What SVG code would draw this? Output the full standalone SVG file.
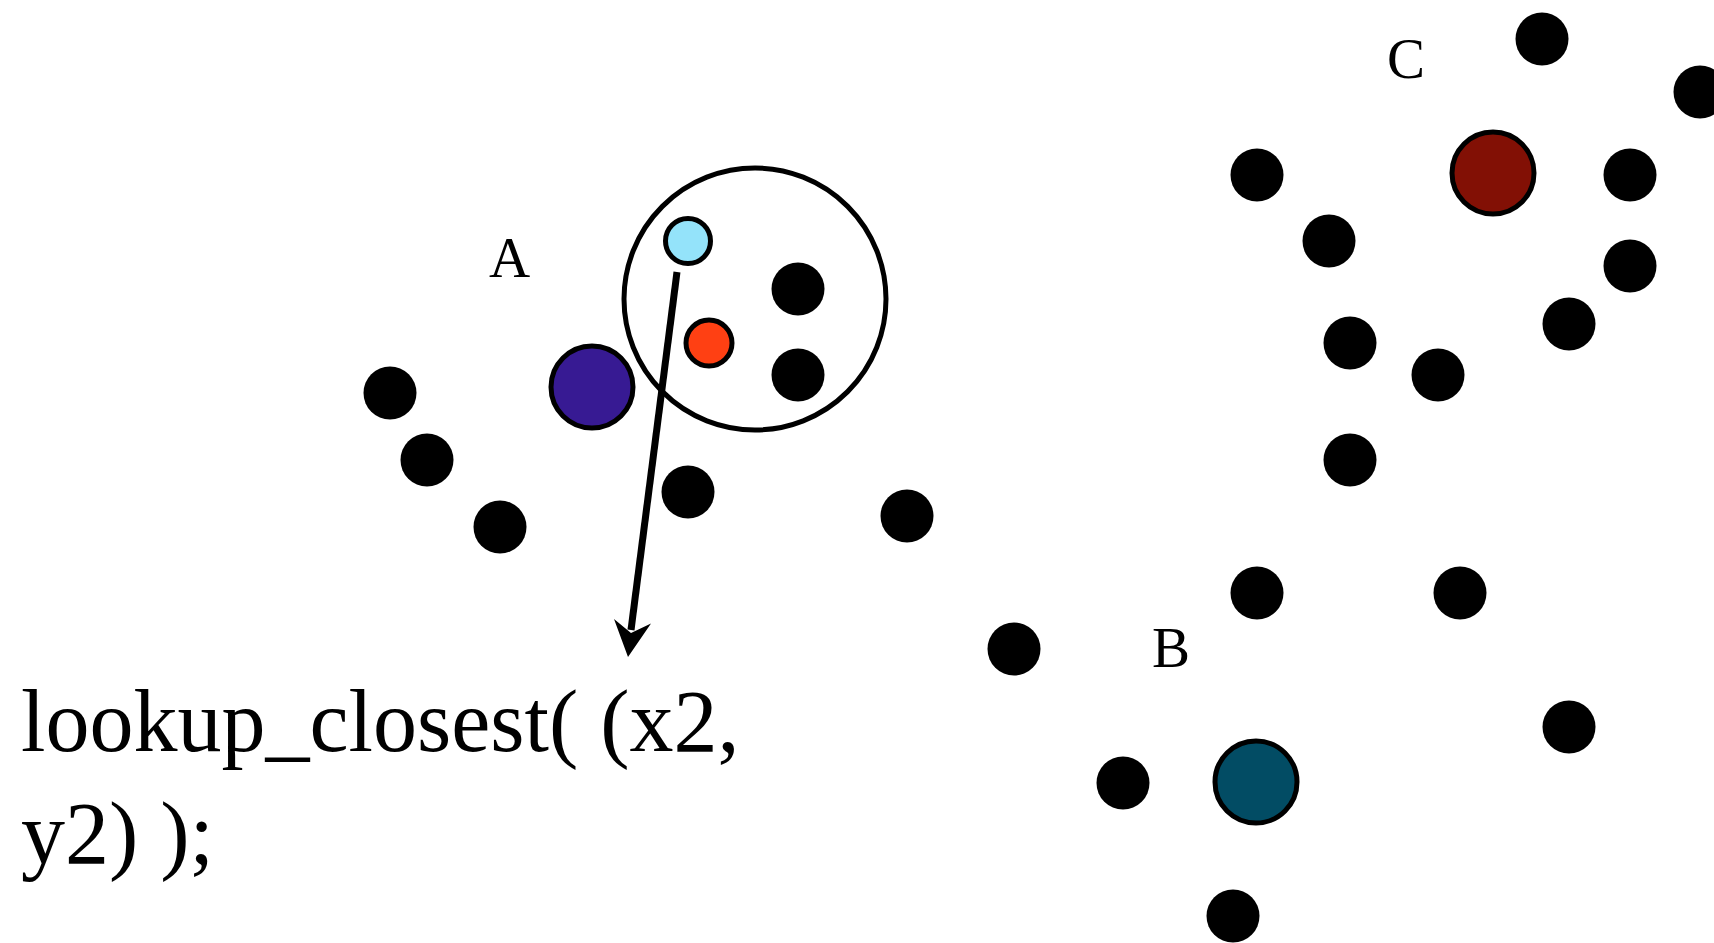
<svg xmlns="http://www.w3.org/2000/svg" width="1714" height="943" viewBox="0 0 1714 943">
<style>
.dot{fill:#000}
.hl{stroke:#000;stroke-width:5}
.lbl{font-family:"Liberation Serif","Times New Roman",serif;font-size:57px;fill:#000}
.code{font-family:"Liberation Serif","Times New Roman",serif;font-size:88px;fill:#000}
</style>
<rect width="1714" height="943" fill="#fff"/>
<g id="cluster-A">
<text class="lbl" x="489" y="277">A</text>
<circle id="search-radius" cx="755" cy="299" r="131" fill="none" stroke="#000" stroke-width="5"/>
<circle class="dot" cx="390" cy="393" r="26.5"/>
<circle class="dot" cx="427" cy="460" r="26.5"/>
<circle class="dot" cx="500" cy="527" r="26.5"/>
<circle class="dot" cx="688" cy="492" r="26.5"/>
<circle class="dot" cx="907" cy="516" r="26.5"/>
<circle class="dot" cx="798" cy="289" r="26.5"/>
<circle class="dot" cx="798" cy="375" r="26.5"/>
<circle id="centroid-A" class="hl" cx="592" cy="387" r="41" fill="#371A93"/>
<circle id="query-point" class="hl" cx="688" cy="241" r="22.5" fill="#94E3FA"/>
<circle id="nearest-point" class="hl" cx="709" cy="343" r="23" fill="#FF4013"/>
</g>
<g id="cluster-B">
<text class="lbl" x="1152" y="667">B</text>
<circle class="dot" cx="1014" cy="649" r="26.5"/>
<circle class="dot" cx="1257" cy="593" r="26.5"/>
<circle class="dot" cx="1460" cy="593" r="26.5"/>
<circle class="dot" cx="1350" cy="460" r="26.5"/>
<circle class="dot" cx="1569" cy="727" r="26.5"/>
<circle class="dot" cx="1123" cy="783" r="26.5"/>
<circle class="dot" cx="1233" cy="916" r="26.5"/>
<circle id="centroid-B" class="hl" cx="1256" cy="782" r="41" fill="#024C64"/>
</g>
<g id="cluster-C">
<text class="lbl" x="1387" y="78">C</text>
<circle class="dot" cx="1542" cy="39" r="26.5"/>
<circle class="dot" cx="1700" cy="92" r="26.5"/>
<circle class="dot" cx="1257" cy="175" r="26.5"/>
<circle class="dot" cx="1630" cy="175" r="26.5"/>
<circle class="dot" cx="1329" cy="241" r="26.5"/>
<circle class="dot" cx="1630" cy="266" r="26.5"/>
<circle class="dot" cx="1569" cy="324" r="26.5"/>
<circle class="dot" cx="1350" cy="343" r="26.5"/>
<circle class="dot" cx="1438" cy="375" r="26.5"/>
<circle id="centroid-C" class="hl" cx="1493" cy="173" r="41" fill="#821005"/>
</g>
<g id="connectors">
<line x1="677" y1="272" x2="631" y2="630" stroke="#000" stroke-width="7"/>
<polygon points="628,657 614,619 631,633 651,623.5" fill="#000"/>
</g>
<g id="code-label">
<text class="code" x="21" y="751">lookup_closest( (x2,</text>
<text class="code" x="21" y="863">y2) );</text>
</g>
</svg>
